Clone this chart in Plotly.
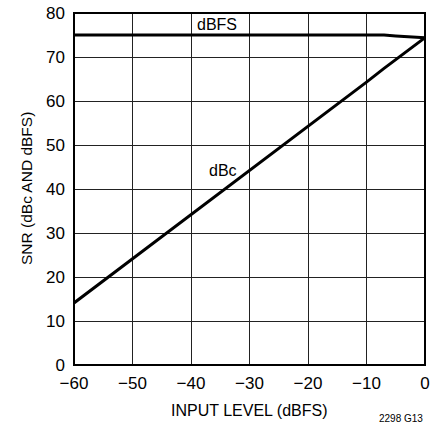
import plotly.graph_objects as go

# Data
input_level = [-60, -50, -40, -30, -20, -10, -7, -5, -3, 0]
snr_dbfs = [75, 75, 75, 75, 75, 75, 75, 74.8, 74.6, 74.4]
snr_dbc = [14.1, 24.1, 34.2, 44.2, 54.3, 64.3, 67.4, 69.4, 71.4, 74.4]

x_ticks = [-60, -50, -40, -30, -20, -10, 0]
x_tick_labels = ["\u221260", "\u221250", "\u221240", "\u221230", "\u221220", "\u221210", "0"]
y_ticks = [0, 10, 20, 30, 40, 50, 60, 70, 80]

FONT = "Liberation Sans, Arial"

fig = go.Figure()
fig.add_trace(go.Scatter(x=input_level, y=snr_dbfs, mode="lines",
                         line=dict(color="black", width=3), showlegend=False,
                         hoverinfo="skip"))
fig.add_trace(go.Scatter(x=input_level, y=snr_dbc, mode="lines",
                         line=dict(color="black", width=3), showlegend=False,
                         hoverinfo="skip"))

fig.add_annotation(x=-35.6, y=77.3, text="dBFS", showarrow=False,
                   font=dict(family=FONT, size=16, color="black"))
fig.add_annotation(x=-34.5, y=44.3, text="dBc", showarrow=False,
                   font=dict(family=FONT, size=16, color="black"))
# axis titles
fig.add_annotation(x=0.5, y=0, xref="paper", yref="paper", text="INPUT LEVEL (dBFS)",
                   showarrow=False, xanchor="center", yanchor="middle", yshift=-45,
                   font=dict(family=FONT, size=16, color="black"))
fig.add_annotation(x=0, y=0.5, xref="paper", yref="paper", text="SNR (dBc AND dBFS)",
                   showarrow=False, xanchor="center", yanchor="middle", xshift=-48,
                   textangle=-90, font=dict(family=FONT, size=15.5, color="black"))
fig.add_annotation(x=1.0, y=0, xref="paper", yref="paper", text="2298 G13",
                   showarrow=False, xanchor="right", yanchor="middle", yshift=-53,
                   font=dict(family=FONT, size=10, color="black"))

# plot frame
fig.add_shape(type="rect", xref="paper", yref="paper", x0=0, x1=1, y0=0, y1=1,
              line=dict(color="black", width=2), layer="above")

fig.update_layout(
    width=430, height=425,
    margin=dict(l=74, r=5, t=13, b=60, autoexpand=False),
    paper_bgcolor="white", plot_bgcolor="white",
    font=dict(family=FONT, size=17, color="black"),
    xaxis=dict(range=[-60, 0], tickvals=x_ticks, ticktext=x_tick_labels,
               showgrid=True, gridcolor="#222", gridwidth=1,
               showline=False, ticks="", zeroline=False, ticklabelstandoff=6,
               ticklabeloverflow="allow", automargin=False),
    yaxis=dict(range=[0, 80], tickvals=y_ticks,
               showgrid=True, gridcolor="#222", gridwidth=1,
               showline=False, ticks="", zeroline=False, ticklabelstandoff=8,
               ticklabeloverflow="allow", automargin=False),
)

fig.write_html("out.html", config={"displayModeBar": False},
               post_script="document.body.style.margin='0';document.body.style.overflow='hidden';")
